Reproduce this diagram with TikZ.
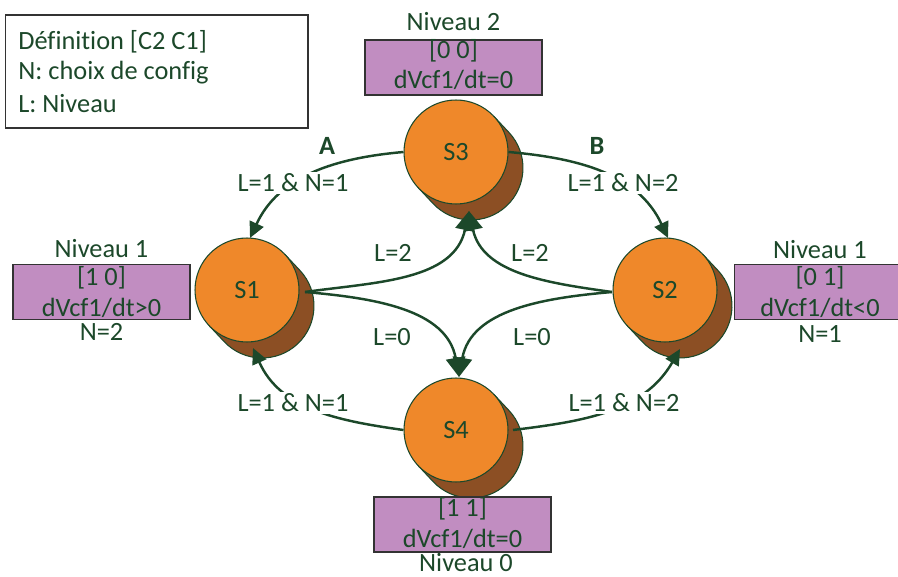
\documentclass[tikz,border=0pt]{standalone}
\usepackage{fontspec}
\setmainfont{Carlito}[Ligatures=NoCommon]
\usetikzlibrary{arrows.meta,calc}
\definecolor{dkg}{RGB}{28,72,42}
\definecolor{orng}{RGB}{239,136,42}
\definecolor{brwn}{RGB}{140,79,36}
\definecolor{purp}{RGB}{193,141,193}
\newcommand\stateshadow[1]{%
  \path[fill=brwn, draw=dkg, line width=0.6pt]
    ($(#1)+(43.2:1.04cm)$) -- ++(15,-16)
    arc[start angle=43.2, end angle=-136.8, radius=1.04cm]
    -- ($(#1)+(-136.8:1.04cm)$) -- cycle;}
\begin{document}
\begin{tikzpicture}[x=0.02cm,y=0.02cm,
  font=\fontsize{15}{16}\selectfont, text=dkg,
  state/.style={circle, fill=orng, draw=dkg, line width=0.6pt, minimum size=2.08cm, inner sep=0pt},
  lbl/.style={fill=white, inner sep=1pt},
  txt/.style={inner sep=0pt},
  conn/.style={draw=dkg, line width=1.4pt},
  tipsmall/.style={-{Triangle[length=9pt,width=8.5pt]}},
  tipbig/.style={-{Triangle[length=11pt,width=11pt]}},
  pbox/.style={fill=purp, draw=black!80, line width=0.6pt, inner sep=0pt, minimum width=3.54cm, minimum height=1.1cm},
]
\useasboundingbox (0,0) rectangle (898,-577);

% legend
\node[draw=black!80, line width=0.6pt, minimum width=6.06cm, minimum height=2.26cm, inner sep=0pt] (leg) at (156.5,-71.5) {};
\node[txt, anchor=west] (l1) at (18,-42) {Définition [C2 C1]};
\node[txt, anchor=west] (l2) at (18,-73) {N: choix de config};
\node[txt, anchor=west] (l3) at (18,-104) {L: Niveau};

% states
\coordinate (c3) at (456,-152);
\coordinate (c1) at (247,-290);
\coordinate (c2) at (665,-290);
\coordinate (c4) at (456,-430);
\stateshadow{c3}
\stateshadow{c1}
\stateshadow{c2}
\stateshadow{c4}
\node[state] (S3) at (c3) {S3};
\node[state] (S1) at (c1) {S1};
\node[state] (S2) at (c2) {S2};
\node[state] (S4) at (c4) {S4};

% anchor points on the shapes
\coordinate (S1tip) at (250,-238);
\coordinate (S2tip) at (668,-238);
\coordinate (S1bot) at (253,-348);
\coordinate (S2bot) at (680,-349);
\coordinate (S3bot) at (469,-211);
\coordinate (S4top) at (459,-377);
\coordinate (S1out) at (305,-292);
\coordinate (S2out) at (612,-292);
\coordinate (S4rt) at (513,-430);

% connectors
\draw[conn,tipsmall] (S3.west) to[out=185,in=65] (S1tip);
\draw[conn,tipsmall] (S3.east) to[out=-5,in=115] (S2tip);
\draw[conn,tipsmall] (S4.west) to[out=172,in=-66] (S1bot);
\draw[conn,tipsmall] (S4rt) to[out=7,in=-120] (S2bot);
\draw[conn,tipbig] (S1out) to[out=8,in=-102] (S3bot);
\draw[conn,tipbig] (S2out) to[out=172,in=-78] (S3bot);
\draw[conn,tipbig] (S1out) to[out=-5,in=100] (S4top);
\draw[conn,tipbig] (S2out) to[out=185,in=80] (S4top);

% connector labels
\node[lbl] (la) at (293,-183) {L=1 \& N=1};
\node[lbl] (lb) at (623,-183) {L=1 \& N=2};
\node[lbl] (lc) at (293,-403) {L=1 \& N=1};
\node[lbl] (ld) at (624,-403) {L=1 \& N=2};
\node[txt] (A) at (327,-146) {\textbf{A}};
\node[txt] (B) at (597,-146) {\textbf{B}};
\node[txt] (m1) at (393,-253) {L=2};
\node[txt] (m2) at (530,-253) {L=2};
\node[txt] (m3) at (392,-337) {L=0};
\node[txt] (m4) at (532,-337) {L=0};

% purple boxes
\node[pbox] (b3) at (453.5,-67.5) {};
\node[txt] (b3n) at (453.5,-22) {Niveau 2};
\node[txt] (b3a) at (453.5,-51) {[0 0]};
\node[txt] (b3b) at (453.5,-80) {dVcf1/dt=0};

\node[pbox] (b1) at (101.5,-292) {};
\node[txt] (b1n) at (101.5,-249) {Niveau 1};
\node[txt] (b1a) at (101.5,-278) {[1 0]};
\node[txt] (b1b) at (101.5,-308) {dVcf1/dt>0};
\node[txt] (b1c) at (101.5,-332) {N=2};

\node[pbox, minimum width=3.46cm] (b2) at (820.5,-292) {};
\node[txt] (b2n) at (820,-250) {Niveau 1};
\node[txt] (b2a) at (820,-278) {[0 1]};
\node[txt] (b2b) at (820,-308) {dVcf1/dt<0};
\node[txt] (b2c) at (820,-334) {N=1};

\node[pbox] (b4) at (462.5,-524.5) {};
\node[txt] (b4a) at (462.5,-509) {[1 1]};
\node[txt] (b4b) at (462.5,-539) {dVcf1/dt=0};
\node[txt] (b4n) at (466,-563) {Niveau 0};
\end{tikzpicture}
\end{document}
